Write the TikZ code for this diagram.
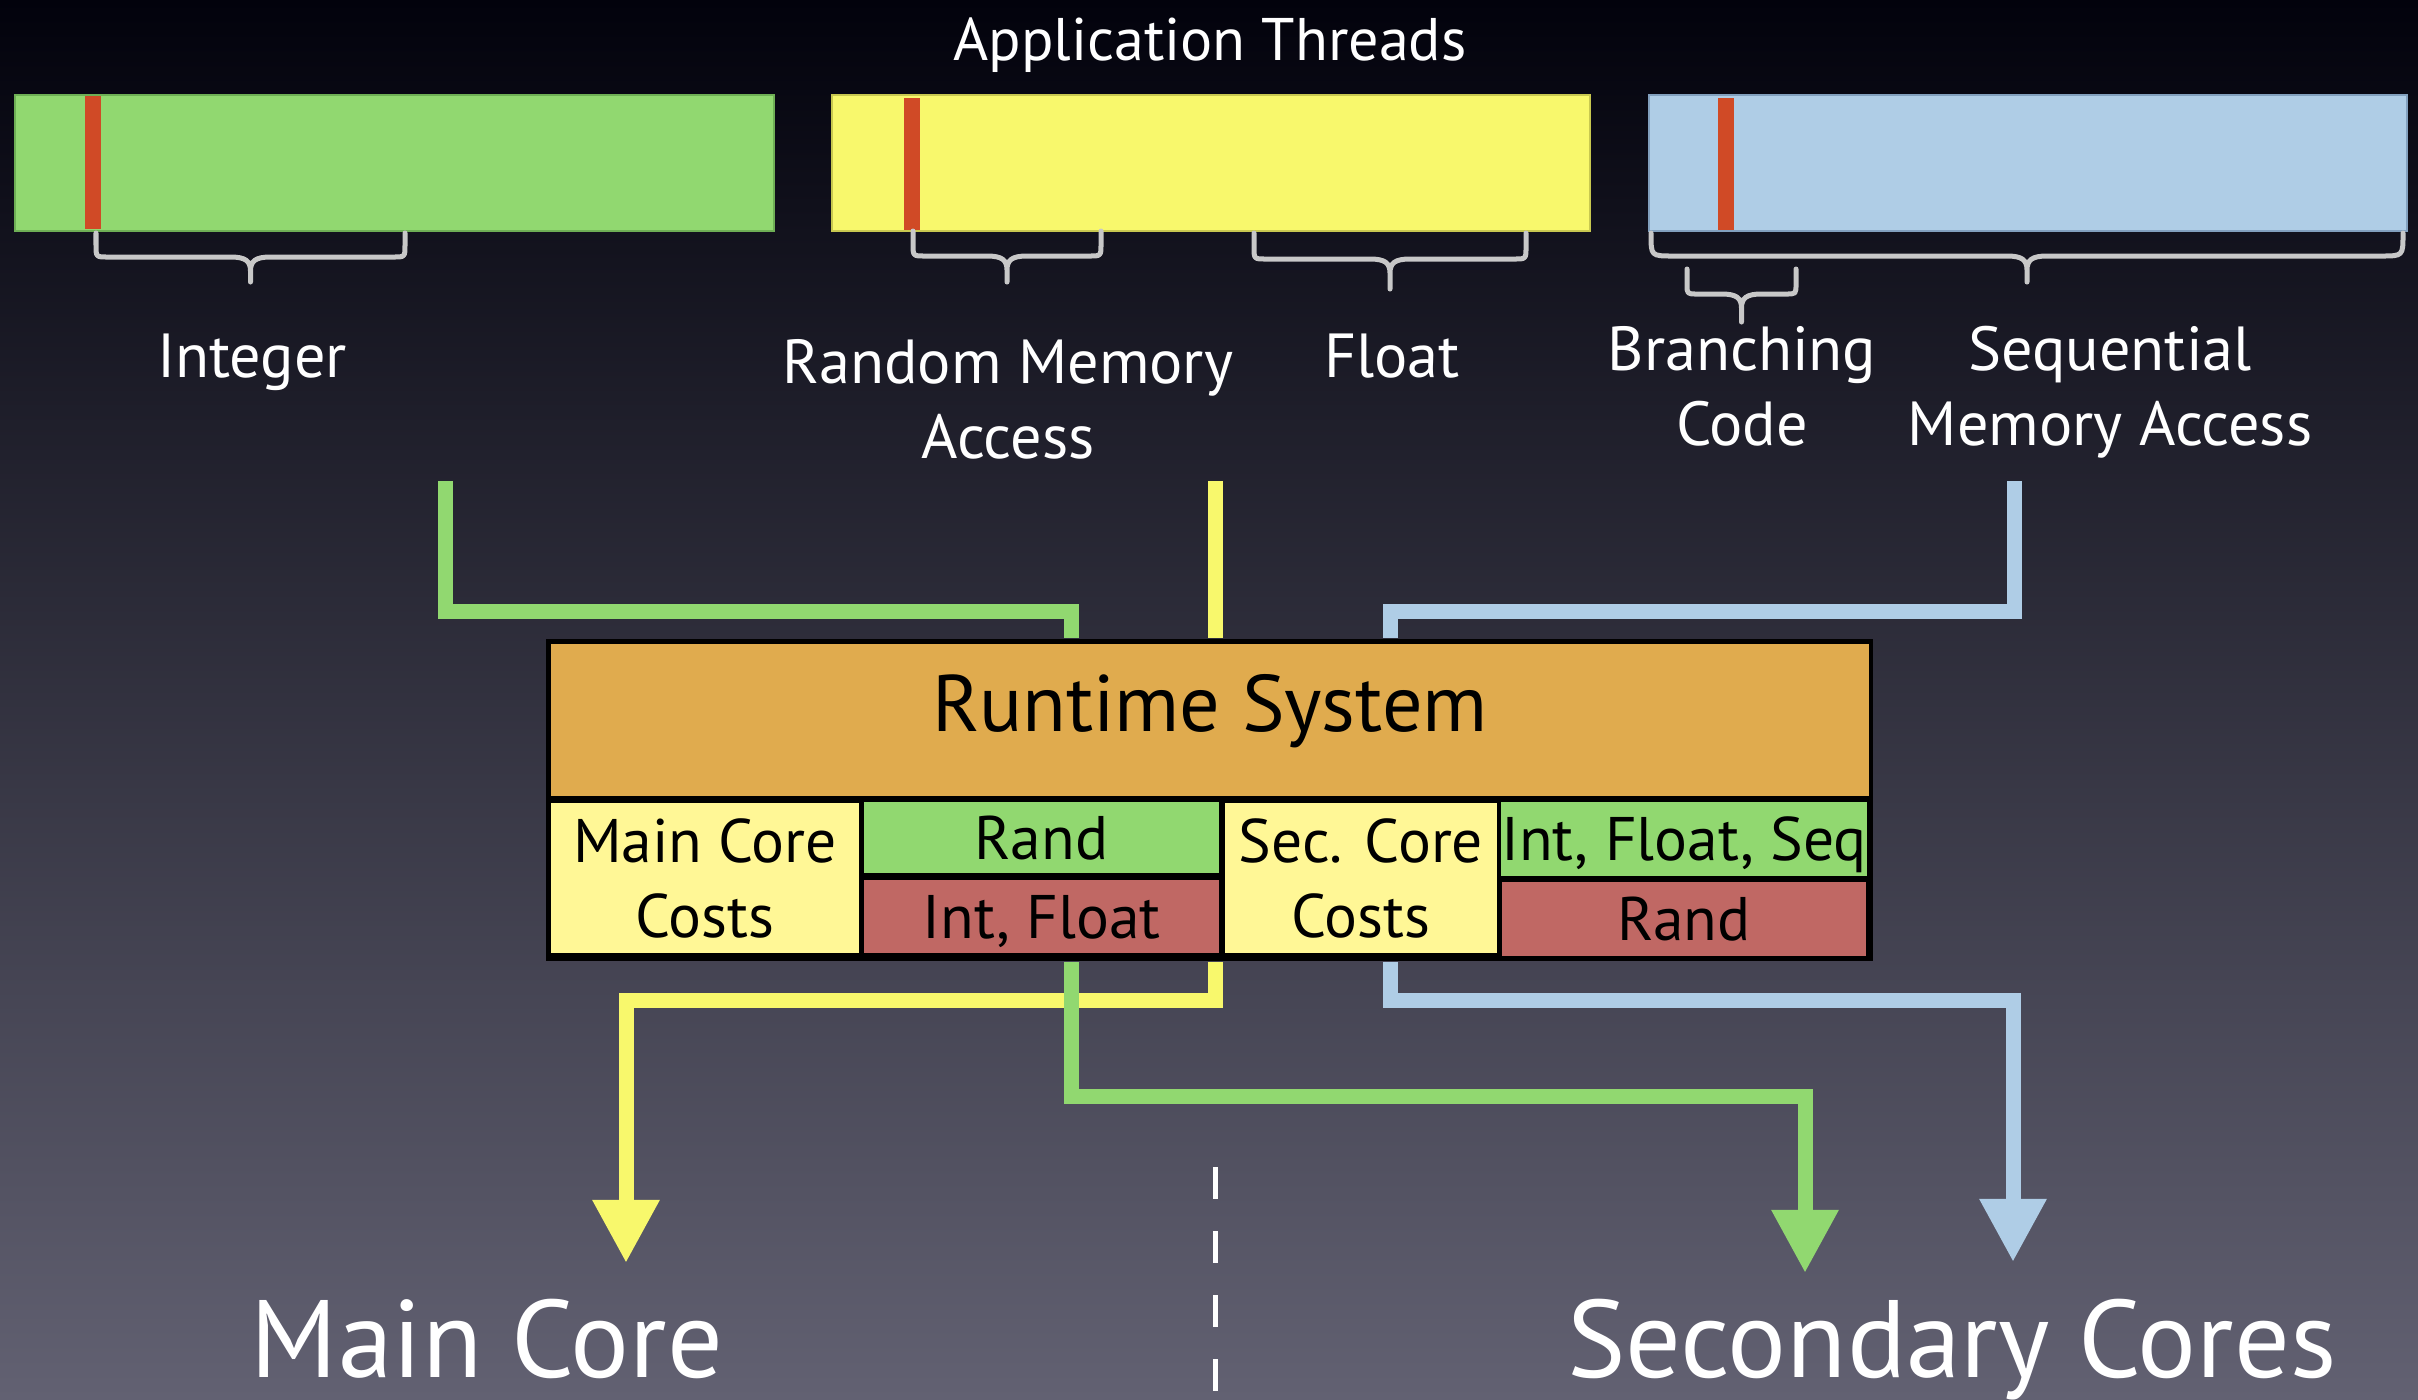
\documentclass[tikz,border=0pt]{standalone}
\usepackage{fontspec}
\setmainfont{PT Sans}
\usetikzlibrary{arrows.meta}
\definecolor{cGrn}{RGB}{145,216,112}
\definecolor{cGrnD}{RGB}{110,175,85}
\definecolor{cYel}{RGB}{248,248,108}
\definecolor{cYelD}{RGB}{200,200,80}
\definecolor{cBlu}{RGB}{175,205,230}
\definecolor{cBluD}{RGB}{130,160,190}
\definecolor{rstripe}{RGB}{208,74,38}
\definecolor{rtorange}{RGB}{224,171,78}
\definecolor{cellyel}{RGB}{255,247,150}
\definecolor{cellred}{RGB}{192,104,100}
\definecolor{brcgrey}{RGB}{200,200,200}
\definecolor{bgtop}{RGB}{2,2,12}
\definecolor{bgmid}{RGB}{38,38,62}
\definecolor{bgbot}{RGB}{98,97,114}
\newcommand\curlybr[6]{% x1,x2,ytop,yh,ytip,r
 \draw[brc] (#1,#3) -- (#1,{#4-#6}) .. controls (#1,#4) .. ({#1+#6},#4)
   -- ({(#1+#2)/2-20},#4) .. controls ({(#1+#2)/2-5},#4) and ({(#1+#2)/2},{#4+4}) .. ({(#1+#2)/2},{#4+14})
   -- ({(#1+#2)/2},#5)
   ({(#1+#2)/2},{#4+14}) .. controls ({(#1+#2)/2},{#4+4}) and ({(#1+#2)/2+5},#4) .. ({(#1+#2)/2+20},#4)
   -- ({#2-#6},#4) .. controls (#2,#4) .. (#2,{#4-#6}) -- (#2,#3);}
\tikzset{
  bar/.style={rectangle, inner sep=0pt, line width=0.02cm},
  brc/.style={draw=brcgrey, line width=0.05cm, line cap=round, line join=round},
  lbl/.style={text=white, inner sep=0pt, align=center, font=\fontsize{17.7}{21.3}\selectfont},
  cell/.style={rectangle, inner sep=0pt, align=center, text=black, font=\fontsize{17.5}{21.3}\selectfont},
  conn/.style={line width=0.15cm},
  tipd/.style={-{Triangle[width=0.63cm,length=0.63cm]}},
  big/.style={text=white, inner sep=0pt, font=\fontsize{31.3}{36}\selectfont},
}
\begin{document}
\begin{tikzpicture}[x=0.01cm, y=-0.01cm]
\useasboundingbox (0,0) rectangle (2418,1399);
\shade[top color=bgtop, middle color=bgmid, bottom color=bgbot] (0,0) rectangle (2418,1399);

% title
\node[lbl, anchor=base, font=\fontsize{17.1}{20}\selectfont] (title) at (1210,60) {Application Threads};

% thread bars
\node[bar, fill=cGrn, draw=cGrnD, minimum width=7.59cm, minimum height=1.36cm] (tInt) at (394.5,163) {};
\node[bar, fill=cYel, draw=cYelD, minimum width=7.58cm, minimum height=1.36cm] (tRand) at (1211,163) {};
\node[bar, fill=cBlu, draw=cBluD, minimum width=7.58cm, minimum height=1.36cm] (tSeq) at (2028,163) {};
\fill[rstripe] (85,96) rectangle (101,229);
\fill[rstripe] (904,98) rectangle (920,230);
\fill[rstripe] (1718,98) rectangle (1734,230);

% braces
\curlybr{96}{405}{233}{257}{282}{12}
\curlybr{913}{1101}{231}{256}{282}{12}
\curlybr{1254}{1526}{233}{259}{289}{12}
\curlybr{1651}{2403}{233}{256}{282}{22}
\curlybr{1687}{1796}{269}{294}{322}{10}

% labels (base = last line)
\node[lbl, anchor=base] (lInt) at (252,377) {Integer};
\node[lbl, anchor=base] (lRand) at (1008,458) {Random Memory\\Access};
\node[lbl, anchor=base] (lFloat) at (1392,377) {Float};
\node[lbl, anchor=base] (lBr) at (1742,445) {Branching\\Code};
\node[lbl, anchor=base] (lSeq) at (2110,445) {Sequential\\Memory Access};

% runtime box (frame)
\node[rectangle, fill=black, inner sep=0pt, minimum width=13.27cm, minimum height=3.22cm] (rt) at (1209.5,800) {};

% connector coordinates
\coordinate (gS) at (445,481);
\coordinate (yS) at (1215,481);
\coordinate (bS) at (2014,481);
\coordinate (gx) at (1071,0);
\coordinate (yx) at (1215,0);
\coordinate (bx) at (1390,0);
\coordinate (mcT) at (626,1263);
\coordinate (gT) at (1805,1273);
\coordinate (bT) at (2013,1262);

% incoming connectors
\draw[conn, draw=cGrn] (gS) |- (1071,611) -- (gx |- rt.north);
\draw[conn, draw=cYel] (yS) -- (yx |- rt.north);
\draw[conn, draw=cBlu] (bS) |- (1390,611) -- (bx |- rt.north);

% outgoing connectors
\draw[conn, draw=cYel, tipd] (yx |- rt.south) |- (626,1000) -- (mcT);
\draw[conn, draw=cGrn, tipd] (gx |- rt.south) |- (1805,1096) -- (gT);
\draw[conn, draw=cBlu, tipd] (bx |- rt.south) |- (2013,1000) -- (bT);

% runtime box on top
\node[rectangle, fill=black, inner sep=0pt, minimum width=13.27cm, minimum height=3.22cm] (rtf) at (1209.5,800) {};
\node[rectangle, fill=rtorange, inner sep=0pt, minimum width=13.18cm, minimum height=1.52cm] (rto) at (1210,720) {};
\node[text=black, inner sep=0pt, anchor=base, font=\fontsize{22.8}{27}\selectfont] (rtl) at (1210,731) {Runtime System};

\node[cell, fill=cellyel, minimum width=3.08cm, minimum height=1.50cm] (mcc) at (705,878) {Main Core\\Costs};
\node[cell, fill=cGrn, minimum width=3.55cm, minimum height=0.71cm, text depth=0pt] (mr) at (1041.5,837.5) {Rand};
\node[cell, fill=cellred, minimum width=3.55cm, minimum height=0.73cm, text depth=0pt] (mif) at (1041.5,916.5) {Int, Float};
\node[cell, fill=cellyel, minimum width=2.72cm, minimum height=1.50cm] (scc) at (1361,878) {Sec. Core\\Costs};
\node[cell, fill=cGrn, minimum width=3.64cm, minimum height=0.74cm, text depth=0pt] (sifs) at (1684,839) {Int, Float, Seq};
\node[cell, fill=cellred, minimum width=3.64cm, minimum height=0.74cm, text depth=0pt] (sr) at (1684,919) {Rand};

% divider
\coordinate (dA) at (1215,1167);
\coordinate (dB) at (1215,1399);
\draw[white, line width=0.05cm, dash pattern=on 0.32cm off 0.32cm] (dA) -- (dB);

% core labels
\node[big, anchor=base] (mainc) at (487,1377) {Main Core};
\node[big, anchor=base] (secc) at (1952,1377) {Secondary Cores};
\end{tikzpicture}
\end{document}
